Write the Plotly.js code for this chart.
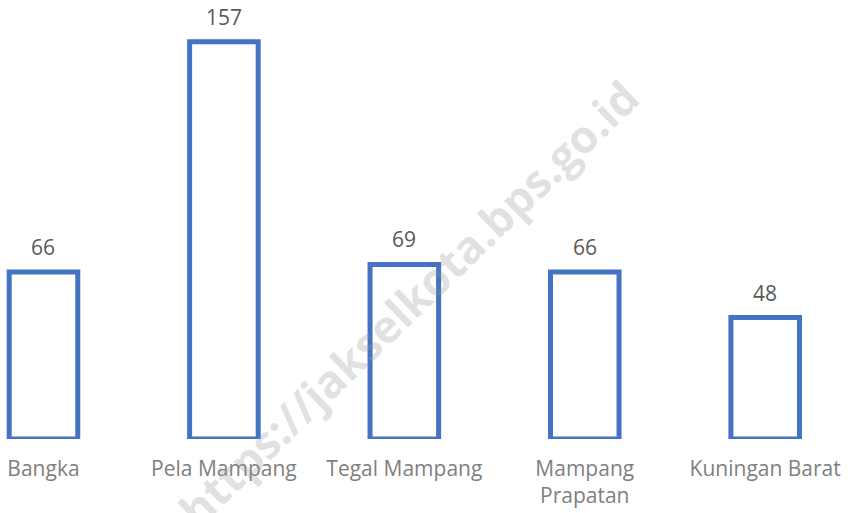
<!DOCTYPE html>
<html>
<head>
<meta charset="utf-8">
<script src="https://cdn.plot.ly/plotly-3.0.1.min.js"></script>
<style>html,body{margin:0;padding:0;background:#fff;}#chart{width:848px;height:513px;}</style>
</head>
<body>
<div id="chart"></div>
<script>
const categories = ["Bangka", "Pela Mampang", "Tegal Mampang", "Mampang<br>Prapatan", "Kuningan Barat"];
const values = [66, 157, 69, 66, 48];
const watermarkText = "https://jakselkota.bps.go.id";

const trace = {
  type: "bar",
  x: categories.map((c, i) => i),
  y: values,
  width: 0.38,
  marker: { color: "#ffffff", line: { color: "#4472C4", width: 5 } },
  cliponaxis: false,
  hoverinfo: "skip"
};

const annotations = values.map((v, i) => ({
  x: i, y: v, xref: "x", yref: "y",
  text: String(v), showarrow: false,
  yanchor: "bottom", yshift: 9,
  font: { family: "Open Sans, sans-serif", size: 21, color: "#595959" }
}));

annotations.push({
  xref: "paper", yref: "paper", x: 0.482, y: 0.31,
  xanchor: "center", yanchor: "middle",
  text: "<b>" + watermarkText + "</b>", showarrow: false, textangle: -44,
  font: { family: "Open Sans, sans-serif", size: 45, color: "rgba(150,150,150,0.28)" }
});

const layout = {
  width: 848, height: 513,
  margin: { l: 0, r: 0, t: 0, b: 74 },
  paper_bgcolor: "#ffffff", plot_bgcolor: "#ffffff",
  showlegend: false,
  xaxis: {
    range: [-0.241, 4.459],
    tickmode: "array",
    tickvals: categories.map((c, i) => i),
    ticktext: categories,
    showgrid: false, zeroline: false, showline: false, ticks: "",
    ticklabelstandoff: 15,
    tickfont: { family: "Open Sans, sans-serif", size: 21, color: "#7f7f7f" },
    fixedrange: true
  },
  yaxis: {
    range: [0, 173.5],
    visible: false, showgrid: false, zeroline: false,
    fixedrange: true
  },
  annotations: annotations
};

Plotly.newPlot("chart", [trace], layout, { displayModeBar: false, staticPlot: true });
</script>
</body>
</html>
